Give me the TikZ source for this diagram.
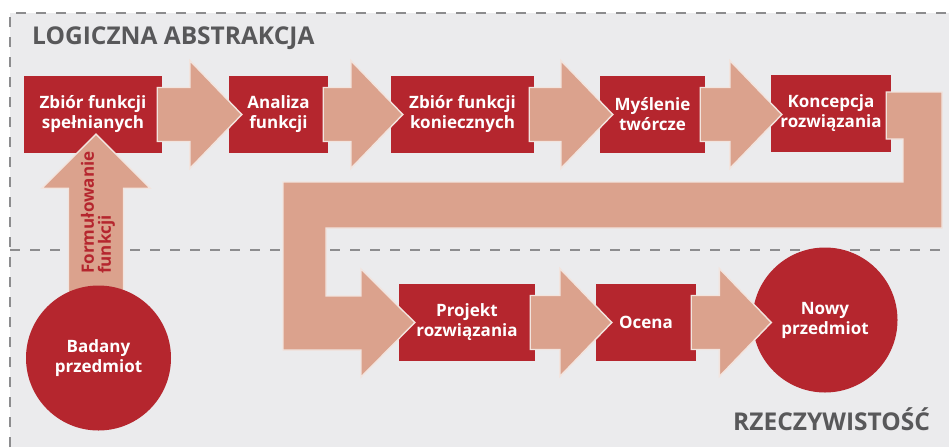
\documentclass[tikz,border=0pt]{standalone}
\usepackage{fontspec}
\setmainfont{Open Sans}
\usetikzlibrary{calc}

\definecolor{boxred}{HTML}{B5262E}
\definecolor{flowsalmon}{HTML}{DBA28D}
\definecolor{flowedge}{HTML}{F2E4DE}
\definecolor{panelgray}{HTML}{EBEBED}
\definecolor{dashgray}{HTML}{8C8C8E}
\definecolor{titlegray}{HTML}{58585A}

% block arrow between two nodes: #1 source, #2 target, #3 how far the tip reaches into the target
\newcommand\flowarrow[3]{%
  \draw[flow] let \p1=($(#1.east)+(-5,0)$), \p2=($(#2.west)+(#3,0)$) in
    (\x1,\y1+27pt) -- (\x2-52pt,\y1+27pt) -- (\x2-52pt,\y1+54pt) -- (\x2,\y1)
    -- (\x2-52pt,\y1-54pt) -- (\x2-52pt,\y1-27pt) -- (\x1,\y1-27pt) -- cycle;}

\begin{document}
\begin{tikzpicture}[x=1pt,y=-1pt,
  stepbox/.style={fill=boxred, text=white, font=\fontsize{17}{20}\selectfont\bfseries,
    align=center, minimum height=77pt, inner sep=0pt},
  roundbox/.style={circle, fill=boxred, text=white, font=\fontsize{17}{20}\selectfont\bfseries,
    align=center, minimum size=145pt, inner sep=0pt},
  flow/.style={fill=flowsalmon, draw=flowedge, line width=1.4pt, line join=miter},
  divider/.style={dashgray, line width=2.5pt, dash pattern=on 10pt off 10pt},
  title/.style={text=titlegray, inner sep=0pt, anchor=base west,
    font=\fontsize{24.5}{25}\selectfont\bfseries}]

\useasboundingbox (0,0) rectangle (949,447);
\fill[white] (0,0) rectangle (949,447);
\fill[panelgray] (10,13) rectangle (949,447);

% frame and the border between the two levels
\draw[divider] (10,447) -- (10,13) -- (949,13);
\draw[divider] (10,250) -- (949,250);

% level titles
\node[title] (abstr) at (32,44.5) {LOGICZNA ABSTRAKCJA};
\node[title] (real) at (733,430) {RZECZYWISTOŚĆ};

% upper row of steps
\node[stepbox, minimum width=138pt] (b1) at (93,114.5) {Zbiór funkcji\\spełnianych};
\node[stepbox, minimum width=99pt]  (b2) at (278.5,114.5) {Analiza\\funkcji};
\node[stepbox, minimum width=143pt] (b3) at (462.5,114.5) {Zbiór funkcji\\koniecznych};
\node[stepbox, minimum width=105pt] (b4) at (652.5,114.5) {Myślenie\\twórcze};
\node[stepbox, minimum width=120pt] (b5) at (831,113.5) {Koncepcja\\rozwiązania};

% lower row
\node[stepbox, minimum width=136pt] (pr) at (467,322.5) {Projekt\\rozwiązania};
\node[stepbox, minimum width=100pt] (oc) at (646,322.5) {Ocena};
\node[roundbox] (nowy) at (825,320) {Nowy\\przedmiot};

% arrows of the upper row
\flowarrow{b1}{b2}{13}
\flowarrow{b2}{b3}{12}
\flowarrow{b3}{b4}{13}
\flowarrow{b4}{b5}{11}

% return path from the concept down to the design
\draw[flow] ($(b5.east)+(-5,-21.5)$) -- (942,92) -- (942,228) -- (326,228) -- (326,296)
  -- (361,296) -- (361,269) -- ($(pr.west)+(16,0)$) -- (361,377) -- (361,350)
  -- (283,350) -- (283,182) -- (903,182) -- (903,139) -- ($(b5.east)+(-5,25.5)$) -- cycle;

% arrows of the lower row
\flowarrow{pr}{oc}{16}
\flowarrow{oc}{nowy}{19}

% upward arrow from the studied object
\draw[flow] ($(b1.south)+(3,-19)$) -- ++(54,54) -- ++(-26.5,0) -- ++(0,112)
  -- ++(-55,0) -- ++(0,-112) -- ++(-26.5,0) -- cycle;
\node[rotate=90, anchor=west, align=left, inner sep=0pt, text=boxred,
  font=\fontsize{17}{17}\selectfont\bfseries] (formul) at (98,274) {Formułowanie\\funkcji};

\node[roundbox] (bad) at (98.5,358) {Badany\\przedmiot};
\end{tikzpicture}
\end{document}
